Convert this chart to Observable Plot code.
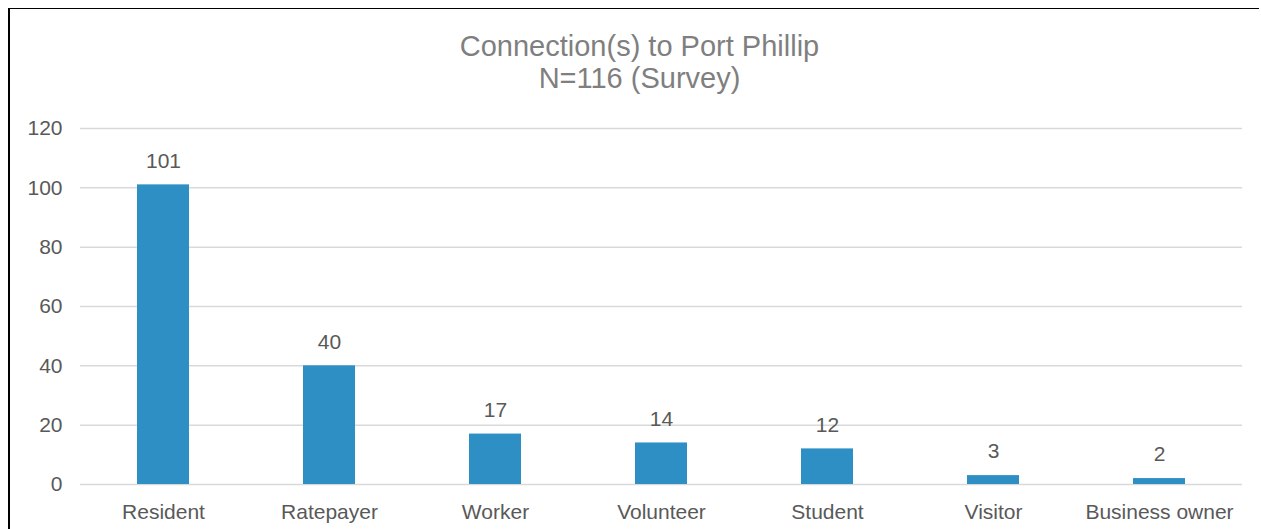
<!DOCTYPE html>
<html><head><meta charset="utf-8">
<script src="https://cdn.jsdelivr.net/npm/d3@7"></script>
<script src="https://cdn.jsdelivr.net/npm/@observablehq/plot@0.6"></script>
<style>
html,body{margin:0;padding:0;background:#fff;}
#wrap{position:relative;width:1261px;height:529px;overflow:hidden;font-family:"Liberation Sans",Arial,sans-serif;}
#frame{position:absolute;left:8px;top:8px;width:1251px;height:530px;border-left:2px solid #000;border-top:1.5px solid #000;box-sizing:border-box;}
#title{position:absolute;left:0;top:30px;width:1279px;text-align:center;color:#7f7f7f;font-size:29px;line-height:32px;}
#chart{position:absolute;left:0;top:0;}
</style></head>
<body><div id="wrap"><div id="frame"></div><div id="chart"></div>
<div id="title">Connection(s) to Port Phillip<br>N=116 (Survey)</div></div>
<script>
const categories = ["Resident","Ratepayer","Worker","Volunteer","Student","Visitor","Business owner"];
const counts = [101,40,17,14,12,3,2];
const yTicks = [0,20,40,60,80,100,120];

const data = categories.map((c,i)=>({category:c,count:counts[i]}));
const plot = Plot.plot({
  width:1261, height:529,
  marginTop:128, marginBottom:45, marginLeft:80, marginRight:19,
  style:{fontFamily:"Liberation Sans, Arial, sans-serif", background:"transparent"},
  x:{domain:categories, paddingInner:0.687, paddingOuter:0.3435, label:null, tickSize:0},
  y:{domain:[0,120], ticks:yTicks, label:null, tickSize:0},
  marks:[
    Plot.ruleY(yTicks,{stroke:"#d9d9d9", strokeWidth:1.5}),
    Plot.barY(data,{x:"category", y:"count", fill:"#2e8fc4"}),
    Plot.text(data,{x:"category", y:"count", text:d=>String(d.count), dy:-24, fill:"#595959", fontSize:21}),
    Plot.axisY({ticks:yTicks, tickSize:0, tickPadding:18, fontSize:21, fill:"#595959", label:null}),
    Plot.axisX({tickSize:0, tickPadding:20, fontSize:21, fill:"#595959", label:null})
  ]
});
document.getElementById("chart").appendChild(plot);
</script></body></html>
